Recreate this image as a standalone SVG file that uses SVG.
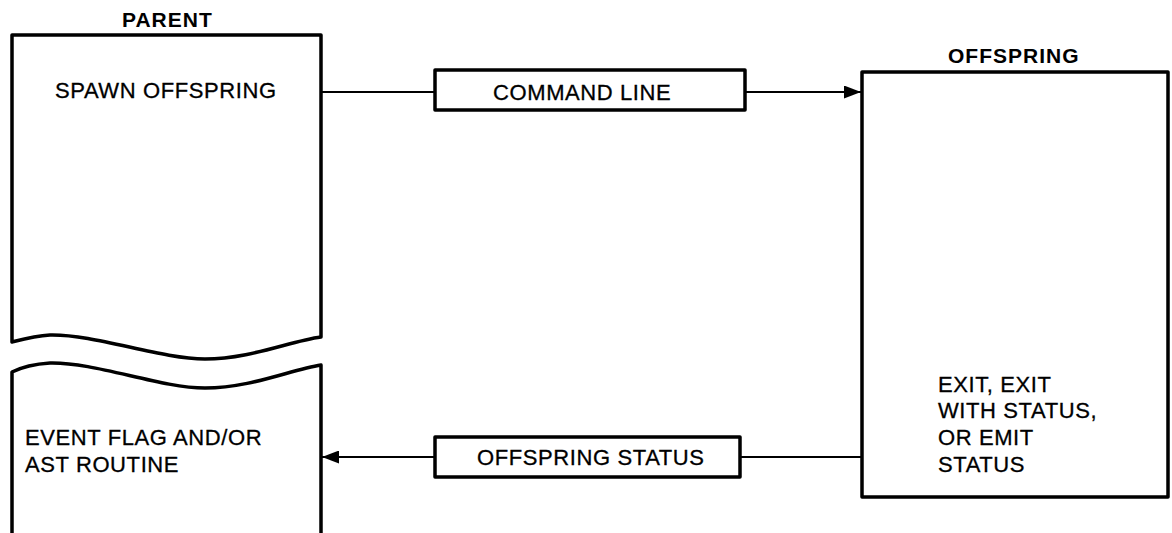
<svg xmlns="http://www.w3.org/2000/svg" width="1172" height="533" viewBox="0 0 1172 533">
  <style>
    .box { fill: #fff; stroke: #000; stroke-width: 3.5; stroke-linejoin: round; }
    .wire { fill: none; stroke: #000; stroke-width: 2.2; }
    .txt { font-family: "Liberation Sans", Arial, sans-serif; font-size: 22px; letter-spacing: 0.6px; fill: #000; stroke: #000; stroke-width: 0.3px; }
    .ttl { font-family: "Liberation Sans", Arial, sans-serif; font-size: 21px; font-weight: bold; letter-spacing: 1px; fill: #000; }
  </style>
  <defs>
    <marker id="arrow" viewBox="0 0 17 13" refX="17" refY="6.5" markerWidth="17" markerHeight="13" markerUnits="userSpaceOnUse" orient="auto">
      <path d="M0,0 L17,6.5 L0,13 Z" fill="#000"/>
    </marker>
  </defs>
  <rect width="1172" height="533" fill="#fff"/>

  <!-- Parent process, upper part (broken at the wavy edge) -->
  <g id="parent-top">
    <text class="ttl" x="122" y="27">PARENT</text>
    <path class="box" d="M12,342 L12,35 L321,35 L321,337 C290,341 250,359 205,359 C160,359 95,334 50,335 C35,336 20,340 12,342 Z"/>
    <text class="txt" x="55" y="98">SPAWN OFFSPRING</text>
  </g>

  <!-- Parent process, lower part (continues past the bottom) -->
  <g id="parent-bottom">
    <path class="box" d="M12,540 L12,372 C20,368 35,364 50,363 C95,362 160,388 205,388 C250,388 290,370 321,365 L321,540"/>
    <text class="txt" x="25" y="445">EVENT FLAG AND/OR</text>
    <text class="txt" x="25" y="472">AST ROUTINE</text>
  </g>

  <!-- Offspring process -->
  <g id="offspring">
    <text class="ttl" x="948" y="63">OFFSPRING</text>
    <rect class="box" x="862" y="72" width="306" height="425"/>
    <text class="txt" x="938" y="392">EXIT, EXIT</text>
    <text class="txt" x="938" y="418">WITH STATUS,</text>
    <text class="txt" x="938" y="445">OR EMIT</text>
    <text class="txt" x="938" y="472">STATUS</text>
  </g>

  <!-- Data passed between the processes -->
  <g id="command-line">
    <rect class="box" x="435" y="70" width="310" height="40"/>
    <text class="txt" x="493" y="100">COMMAND LINE</text>
  </g>
  <g id="offspring-status">
    <rect class="box" x="435" y="437" width="305" height="40"/>
    <text class="txt" x="477" y="465">OFFSPRING STATUS</text>
  </g>

  <g id="connectors">
    <line class="wire" x1="321" y1="92" x2="435" y2="92"/>
    <line class="wire" x1="745" y1="92" x2="861" y2="92" marker-end="url(#arrow)"/>
    <line class="wire" x1="862" y1="457" x2="740" y2="457"/>
    <line class="wire" x1="435" y1="457" x2="322" y2="457" marker-end="url(#arrow)"/>
  </g>
</svg>
